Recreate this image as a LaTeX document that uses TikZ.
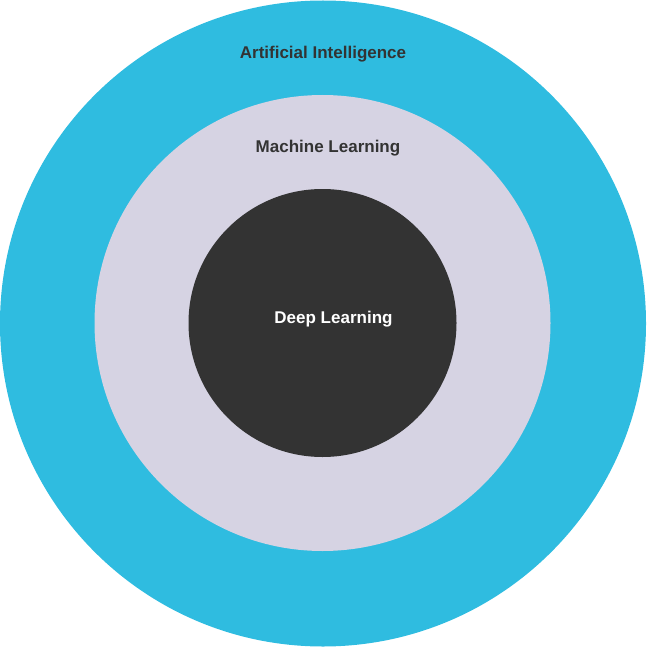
\documentclass[tikz,border=0pt]{standalone}
\usepackage{fontspec}
\setmainfont{Liberation Sans}
\definecolor{aiblue}{HTML}{2FBCE0}
\definecolor{mllav}{HTML}{D6D3E3}
\definecolor{dldark}{HTML}{333333}
\begin{document}
\begin{tikzpicture}[x=1pt,y=-1pt,
  lbl/.style={font=\fontsize{17}{20}\selectfont\bfseries, anchor=base, inner sep=0pt}]
\useasboundingbox (0,0) rectangle (646,647);
\fill[aiblue] (323,323.5) circle (323);
\fill[mllav] (322.5,323) circle (228);
\fill[dldark] (322.5,323) circle (134);
\node[lbl, text=dldark] (ai) at (323,59) {Artificial Intelligence};
\node[lbl, text=dldark] (ml) at (328,153) {Machine Learning};
\node[lbl, text=white] (dl) at (333.5,323) {Deep Learning};
\end{tikzpicture}
\end{document}
